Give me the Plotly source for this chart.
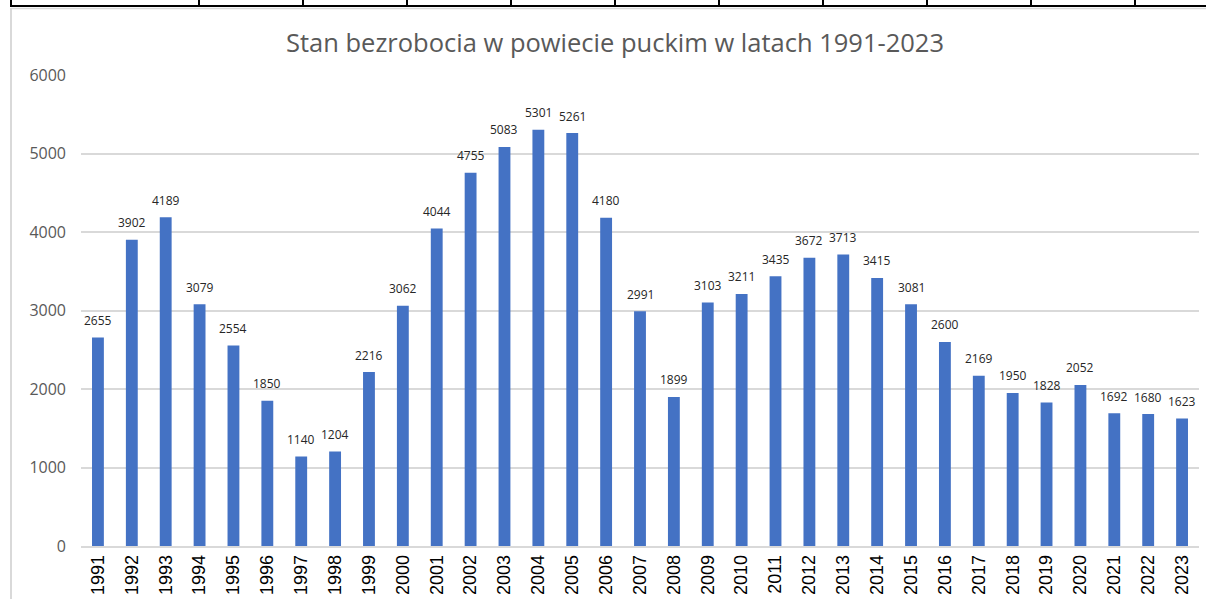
import plotly.graph_objects as go

years = [str(y) for y in range(1991, 2024)]
unemployed = [2655, 3902, 4189, 3079, 2554, 1850, 1140, 1204, 2216, 3062,
              4044, 4755, 5083, 5301, 5261, 4180, 2991, 1899, 3103, 3211,
              3435, 3672, 3713, 3415, 3081, 2600, 2169, 1950, 1828, 2052,
              1692, 1680, 1623]
y_ticks = [0, 1000, 2000, 3000, 4000, 5000, 6000]
title_text = "Stan bezrobocia w powiecie puckim w latach 1991-2023"

W, H = 1206, 599
ML, MR, MT, MB = 81, 7, 75, 53
PW, PH = W - ML - MR, H - MT - MB


def px(x):
    return (x - ML) / PW


def py(y):
    return (H - MB - y) / PH


fig = go.Figure()
fig.add_trace(go.Bar(
    x=years, y=unemployed,
    marker=dict(color="#4472C4", line=dict(width=0)),
    hoverinfo="x+y",
))

for i, v in enumerate(unemployed):
    fig.add_annotation(x=i, y=v, text=str(v), showarrow=False,
                       yanchor="middle", yshift=17,
                       font=dict(family="Open Sans", size=12, color="#262626"))

shapes = []
# spreadsheet grid remnants
shapes.append(dict(type="line", xref="paper", yref="paper",
                   x0=px(10), x1=px(1206), y0=py(6), y1=py(6),
                   line=dict(color="black", width=2)))
for gx in [11, 199, 303, 407, 511, 615, 719, 823, 927, 1031, 1135]:
    shapes.append(dict(type="line", xref="paper", yref="paper",
                       x0=px(gx), x1=px(gx), y0=py(0), y1=py(6),
                       line=dict(color="black", width=2)))
# chart frame
shapes.append(dict(type="line", xref="paper", yref="paper",
                   x0=px(11), x1=px(1206), y0=py(8.5), y1=py(8.5),
                   line=dict(color="#d9d9d9", width=1.5)))
shapes.append(dict(type="line", xref="paper", yref="paper",
                   x0=px(11), x1=px(11), y0=py(8), y1=py(600),
                   line=dict(color="#d9d9d9", width=2)))

fig.update_layout(
    width=W, height=H,
    margin=dict(l=ML, r=MR, t=MT, b=MB, pad=0, autoexpand=False),
    paper_bgcolor="white", plot_bgcolor="white",
    bargap=0.65,
    showlegend=False,
    title=dict(text=title_text, x=615 / W, xanchor="center", xref="container",
               y=1 - 43 / H, yanchor="middle", yref="container",
               font=dict(family="Open Sans", size=25.5, color="#595959")),
    shapes=shapes,
    xaxis=dict(
        type="category", tickangle=-90, range=[-0.5, len(years) - 0.5],
        tickfont=dict(family="Liberation Sans", size=18, color="#000000"),
        showgrid=False, showline=True, linecolor="#d9d9d9", linewidth=1.5,
        ticks="", fixedrange=True, automargin=False,
    ),
    yaxis=dict(
        range=[0, 6000], tickvals=y_ticks,
        tickfont=dict(family="Open Sans", size=16, color="#595959"),
        showgrid=True, gridcolor="#d9d9d9", gridwidth=1.5,
        zeroline=False, showline=False, ticks="",
        ticklabelstandoff=14, fixedrange=True, automargin=False,
    ),
)

fig.write_html("out.html",
               config={"displayModeBar": False},
               post_script="document.body.style.margin='0px';document.body.style.overflow='hidden';")
